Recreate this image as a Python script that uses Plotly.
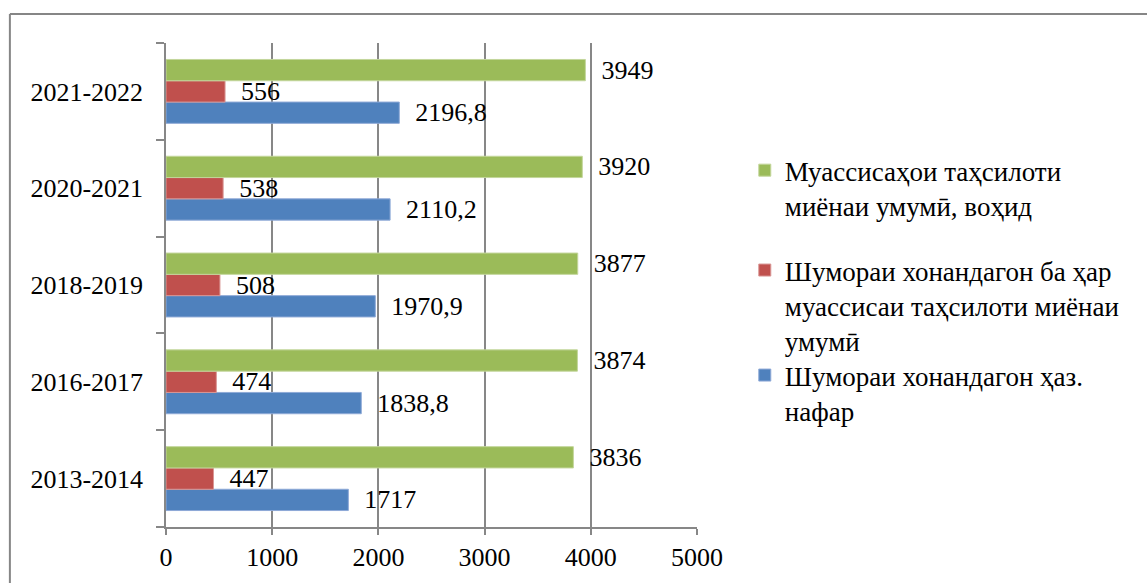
import plotly.graph_objects as go

categories = ["2013-2014", "2016-2017", "2018-2019", "2020-2021", "2021-2022"]
students = [1717, 1838.8, 1970.9, 2110.2, 2196.8]
per_school = [447, 474, 508, 538, 556]
schools = [3836, 3874, 3877, 3920, 3949]

series_names = [
    "Шумораи хонандагон ҳаз.<br>нафар",
    "Шумораи хонандагон ба ҳар<br>муассисаи таҳсилоти миёнаи<br>умумӣ",
    "Муассисаҳои таҳсилоти<br>миёнаи умумӣ, воҳид",
]
colors = ["#4F81BD", "#C0504D", "#9BBB59"]
edge_colors = ["#8EA9D7", "#D99694", "#C3D69B"]
legend_ids = ["legend3", "legend2", "legend"]

FONT = "Liberation Serif"


def fmt(v):
    return f"{v:g}".replace(".", ",")


fig = go.Figure()
for name, vals, col, ecol, lg in zip(series_names, [students, per_school, schools], colors, edge_colors, legend_ids):
    fig.add_trace(go.Bar(
        y=categories, x=vals, orientation="h", name=name, legend=lg,
        marker=dict(color=col, line=dict(color=ecol, width=1)),
        text=[fmt(v) for v in vals],
        texttemplate="\u00a0\u00a0%{text}",
        textposition="outside",
        textfont=dict(family=FONT, size=26, color="black"),
        constraintext="none",
        cliponaxis=False,
    ))

grid = "#878787"
leg_common = dict(x=1.09, xanchor="left", yanchor="top", valign="top",
                  font=dict(family=FONT, size=27, color="black"),
                  bgcolor="rgba(0,0,0,0)")
fig.update_layout(
    width=1147, height=583,
    margin=dict(l=166, r=450, t=43, b=56, autoexpand=False),
    paper_bgcolor="white", plot_bgcolor="white",
    barmode="group", bargap=0.34, bargroupgap=0,
    font=dict(family=FONT, size=26, color="black"),
    showlegend=True,
    legend=dict(y=0.787, **leg_common),
    legend2=dict(y=0.5806, **leg_common),
    legend3=dict(y=0.3636, **leg_common),
    xaxis=dict(
        range=[0, 5000], dtick=1000, tick0=0,
        showgrid=True, gridcolor=grid, gridwidth=1.5,
        zeroline=False, showline=True, linecolor=grid, linewidth=1.5,
        ticks="outside", ticklen=6, tickcolor=grid, tickwidth=1.5,
        tickfont=dict(family=FONT, size=26, color="black"),
        ticklabelstandoff=0,
    ),
    yaxis=dict(
        type="category", categoryorder="array", categoryarray=categories,
        range=[-0.5, 4.5],
        showgrid=False, zeroline=False, showline=True, linecolor=grid, linewidth=1.5,
        ticks="outside", ticklen=8, tickcolor=grid, tickwidth=1.5, tickson="boundaries",
        tickfont=dict(family=FONT, size=26, color="black"),
        ticklabelstandoff=16,
    ),
    shapes=[
        dict(type="line", xref="paper", yref="paper", x0=-0.294, x1=2.0, y0=1.06, y1=1.06,
             line=dict(color="#868686", width=2)),
        dict(type="line", xref="paper", yref="paper", x0=-0.294, x1=-0.294, y0=1.06, y1=-0.5,
             line=dict(color="#868686", width=2)),
    ],
)

fig.write_html(
    "out.html",
    config={"displayModeBar": False},
    post_script="document.body.style.margin='0';document.body.style.overflow='hidden';",
)
